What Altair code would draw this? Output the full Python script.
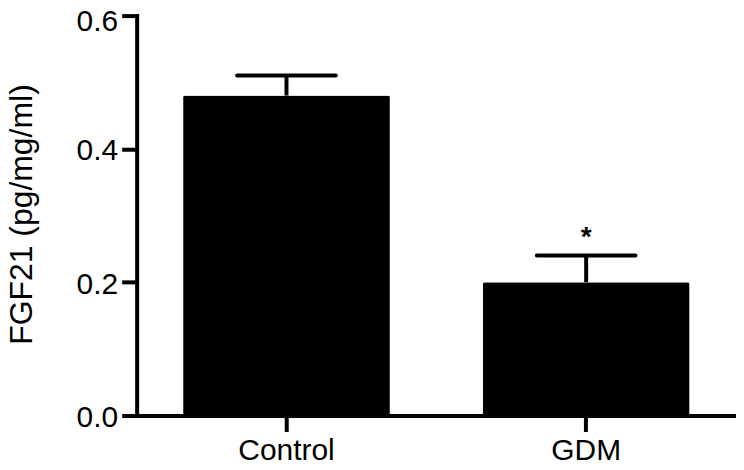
import altair as alt
import pandas as pd

groups = ["Control", "GDM"]
means = [0.48, 0.20]
errors = [0.03, 0.04]
sig = ["", "*"]

df = pd.DataFrame({
    "group": groups,
    "mean": means,
    "upper": [m + e for m, e in zip(means, errors)],
    "sig": sig,
})

FONT = "Liberation Sans"

x = alt.X("group:N", sort=groups, title=None,
          scale=alt.Scale(paddingInner=0.31, paddingOuter=0.155),
          axis=alt.Axis(labelAngle=0, labelFontSize=30, labelFont=FONT, labelColor="black",
                        domainColor="black", domainWidth=4, tickColor="black", tickWidth=4,
                        tickSize=16, labelPadding=4, domainCap="square"))

y_scale = alt.Scale(domain=[0, 0.6], nice=False)

base = alt.Chart(df)

bars = base.mark_bar(color="black", cornerRadius=2).encode(
    x=x,
    y=alt.Y("mean:Q", scale=y_scale, title="FGF21 (pg/mg/ml)",
            axis=alt.Axis(values=[0, 0.2, 0.4, 0.6], format=".1f", labelFontSize=30,
                          labelFont=FONT, labelColor="black", titleFont=FONT,
                          titleFontSize=32, titleFontWeight="normal", titleColor="black",
                          titleX=-105, titleY=199, titleBaseline="alphabetic",
                          titleAngle=270, titleAlign="center",
                          domainColor="black", domainWidth=4, tickColor="black",
                          tickWidth=4, tickSize=15, labelPadding=4,
                          labelOffset=alt.ExprRef("datum.value >= 0.6 ? 6 : 2"),
                          grid=False, domainCap="square")),
)

stems = base.mark_rule(color="black", strokeWidth=4).encode(
    x=alt.X("group:N", sort=groups),
    y=alt.Y("mean:Q", scale=y_scale),
    y2="upper:Q",
)

caps = base.mark_tick(color="black", opacity=1, size=103, thickness=4, cornerRadius=2).encode(
    x=alt.X("group:N", sort=groups),
    y=alt.Y("upper:Q", scale=y_scale),
)

stars = base.mark_text(font=FONT, fontSize=28, fontWeight="bold", color="black",
                       baseline="alphabetic", dy=-10).encode(
    x=alt.X("group:N", sort=groups),
    y=alt.Y("upper:Q", scale=y_scale),
    text="sig:N",
)

chart = alt.layer(bars, stems, caps, stars).properties(
    width=601, height=401,
    autosize=alt.AutoSizeParams(type="none"),
    padding={"left": 129, "top": 7, "right": 0, "bottom": 46},
).configure_view(stroke=None).configure_axis(grid=False)

chart.save("out.html", embed_options={"renderer": "svg", "actions": False})
